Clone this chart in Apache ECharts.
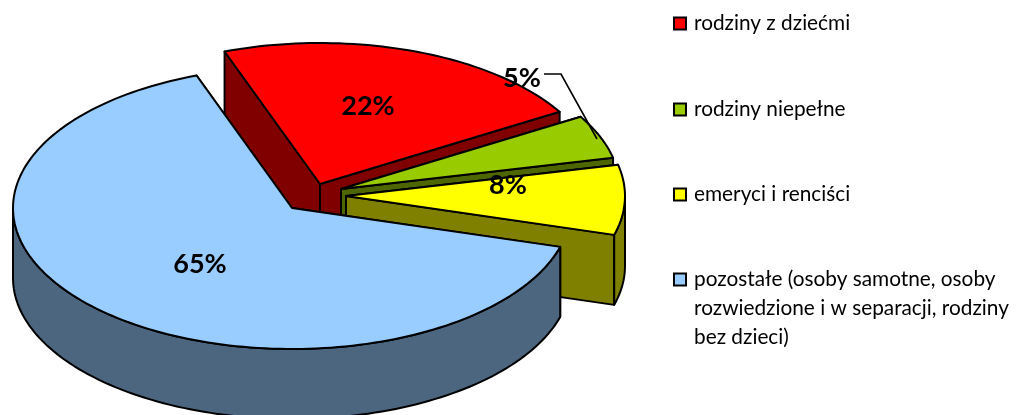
<!DOCTYPE html>
<html><head><meta charset="utf-8">
<style>html,body{margin:0;padding:0;background:#fff}#c{width:1021px;height:415px}</style>
<script src="https://cdn.jsdelivr.net/npm/echarts@6/dist/echarts.min.js"></script>
</head><body><div id="c"></div>
<script>
const categories = ['rodziny z dziećmi', 'rodziny niepełne', 'emeryci i renciści', 'pozostałe (osoby samotne, osoby\nrozwiedzione i w separacji, rodziny\nbez dzieci)'];
const values = [22, 5, 8, 65];
const labels = ['22%', '5%', '8%', '65%'];
const topColors = ['#FF0000', '#99CC00', '#FFFF00', '#99CCFF'];
const sideColors = ['#800000', '#4D6600', '#808000', '#4D6680'];
const apexes = [[320, 184], [341, 189], [346, 196], [292, 208]];
const labelPositions = [[368, 106], [522, 78], [508, 185], [200, 264]];
const legendCentres = [23, 109, 194, 279];
const RX = 279, RY = 141, DEPTH = 70, START = 110, LINE = 2;
const total = values.reduce((a, b) => a + b, 0);
const stroke = {stroke: '#000', lineWidth: LINE, lineJoin: 'round'};

function arcPts(ax, ay, from, to, dy) {
  const pts = [], n = Math.max(2, Math.ceil(Math.abs(to - from) / 1.5));
  for (let i = 0; i <= n; i++) {
    const t = (from + (to - from) * i / n) * Math.PI / 180;
    pts.push([ax + RX * Math.cos(t), ay - RY * Math.sin(t) + dy]);
  }
  return pts;
}
function poly(points, fill) {
  return {type: 'polygon', shape: {points}, style: Object.assign({fill}, stroke)};
}
function renderSlice(idx) {
  return function (params, api) {
    const v = api.value(0);
    let before = 0;
    for (let i = 0; i < idx; i++) before += values[i];
    const a0 = START - before / total * 360, a1 = a0 - v / total * 360;
    const [ax, ay] = apexes[idx];
    const side = sideColors[idx], kids = [];
    const edge = ang => {
      const p = arcPts(ax, ay, ang, ang, 0)[0];
      return poly([[ax, ay], p, [p[0], p[1] + DEPTH], [ax, ay + DEPTH]], side);
    };
    kids.push(edge(a0), edge(a1));
    const hi = Math.min(a0, 0), lo = Math.max(a1, -180);
    if (hi > lo) {
      kids.push(poly(arcPts(ax, ay, hi, lo, 0).concat(arcPts(ax, ay, lo, hi, DEPTH)), side));
    }
    kids.push(poly([[ax, ay]].concat(arcPts(ax, ay, a0, a1, 0)), topColors[idx]));
    if (idx === 1) {
      kids.push({type: 'polyline', shape: {points: [[544, 74], [561, 74], [597, 139]]},
        style: {stroke: '#000', lineWidth: 1.6, fill: null}});
    }
    kids.push({type: 'text', style: {
      text: labels[idx], x: labelPositions[idx][0], y: labelPositions[idx][1],
      textAlign: 'center', textVerticalAlign: 'middle', fill: '#000',
      font: 'bold 27px Lato, sans-serif'}});
    return {type: 'group', children: kids};
  };
}
const series = categories.map((name, i) => ({
  type: 'custom', name, coordinateSystem: 'none', silent: true,
  itemStyle: {color: topColors[i]},
  data: [[values[i]]], renderItem: renderSlice(i), animation: false
}));
const legends = categories.map((name, i) => {
  const last = i === categories.length - 1;
  return {
    data: [name], left: 673, top: legendCentres[i] - (last ? 72 : 14),
    orient: 'vertical', icon: 'rect', itemWidth: 12, itemHeight: 12, itemGap: 0,
    selectedMode: false, padding: 0, inactiveColor: '#000',
    itemStyle: {borderColor: '#000', borderWidth: 2},
    textStyle: {fontFamily: 'Lato, sans-serif', fontSize: 20.8, color: '#000', lineHeight: 29, padding: [0, 0, 0, 3]},
    formatter: n => last ? '\n\n' + n : n
  };
});
const chart = echarts.init(document.getElementById('c'), null, {renderer: 'canvas'});
chart.setOption({animation: false, backgroundColor: '#fff', legend: legends, series});
</script></body></html>
